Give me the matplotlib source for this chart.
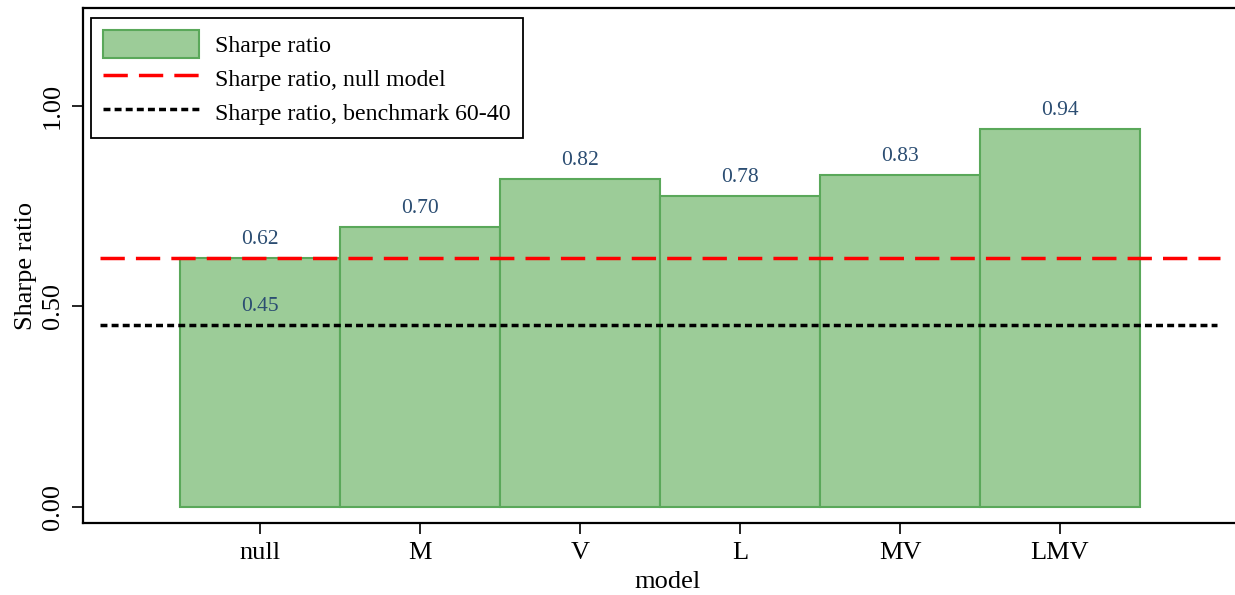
import matplotlib
matplotlib.use("Agg")
import matplotlib.pyplot as plt
from matplotlib.patches import Patch
from matplotlib.lines import Line2D

models = ["null", "M", "V", "L", "MV", "LMV"]
sharpe = [0.62, 0.698, 0.817, 0.776, 0.828, 0.943]
null_sharpe = 0.62
bench_sharpe = 0.454
yticks = [0.0, 0.5, 1.0]

plt.rcParams['font.family'] = ['Liberation Serif', 'DejaVu Serif']

fig = plt.figure(figsize=(12.35, 5.95), dpi=100)
ax = fig.add_axes([83/1235, 72/595, (1252-83)/1235, 515/595])

x = list(range(len(models)))
ax.bar(x, sharpe, width=1.0, color="#9ccc98", edgecolor="#5aa85a", linewidth=1.5, zorder=2)
for xi, v in zip(x, sharpe):
    ax.text(xi, v + 0.022, f"{v:.2f}", ha="center", va="bottom", color="#2b4d72", fontsize=15.5, zorder=4)

ax.plot([-1.0, 6.0], [null_sharpe, null_sharpe], color="#ff0000", linestyle=(0, (7, 3.2)), linewidth=2.5, zorder=3)
ax.plot([-1.0, 5.98], [bench_sharpe, bench_sharpe], color="black", linestyle=(0, (2, 1.2)), linewidth=2.5, zorder=3)
ax.text(0, bench_sharpe + 0.022, f"{bench_sharpe:.2f}", ha="center", va="bottom", color="#2b4d72", fontsize=15.5, zorder=4)

ax.set_xlim(-1.106, 6.2)
ax.set_ylim(-0.04, 1.244)
ax.set_xticks(x)
ax.set_xticklabels(models, fontsize=19)
ax.set_yticks(yticks)
ax.set_yticklabels([f"{t:.2f}" for t in yticks], fontsize=19, rotation=90, va="center")
ax.set_xlabel("model", fontsize=19, labelpad=5)
ax.set_ylabel("Sharpe ratio", fontsize=19, labelpad=3)
for s in ax.spines.values():
    s.set_linewidth(1.6)
ax.tick_params(axis="both", length=8, width=1.2, pad=6)

handles = [
    Patch(facecolor="#9ccc98", edgecolor="#5aa85a", linewidth=1.5),
    Line2D([0], [0], color="#ff0000", linestyle=(0, (7, 3.2)), linewidth=2.5),
    Line2D([0], [0], color="black", linestyle=(0, (2, 1.2)), linewidth=2.5),
]
labels = ["Sharpe ratio", "Sharpe ratio, null model", "Sharpe ratio, benchmark 60-40"]
leg = ax.legend(handles, labels, loc="upper left", bbox_to_anchor=((91-83)/1169, (523-18)/515),
                fontsize=17.2, frameon=True, fancybox=False, edgecolor="black", framealpha=1,
                handlelength=4.0, handleheight=1.4, borderpad=0.5, labelspacing=0.27, handletextpad=0.7,
                borderaxespad=0)
leg.get_frame().set_linewidth(1.3)

fig.savefig("out.png", dpi=100)
